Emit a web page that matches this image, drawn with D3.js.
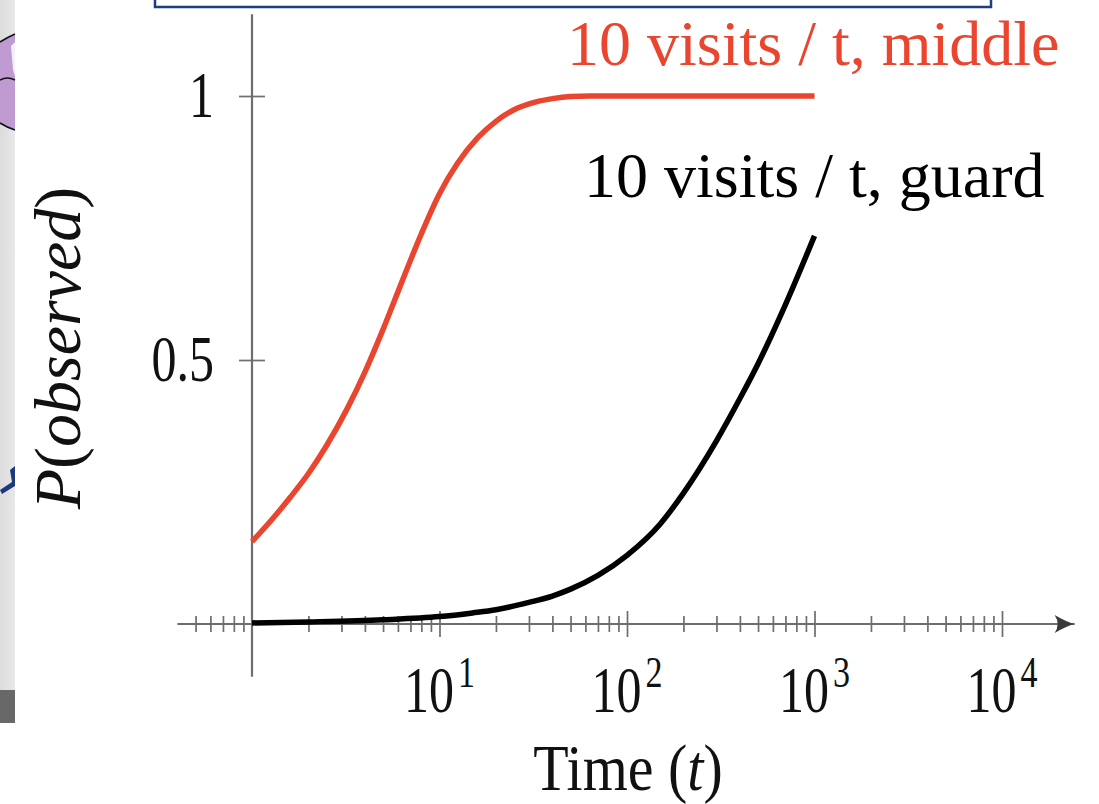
<!DOCTYPE html>
<html>
<head>
<meta charset="utf-8">
<script src="https://cdn.jsdelivr.net/npm/d3@7"></script>
<style>
  html, body { margin: 0; padding: 0; background: #fff; }
  svg { display: block; }
  .serif { font-family: 'Liberation Serif', 'Times New Roman', serif; }
</style>
</head>
<body>
<svg id="chart" width="1099" height="804"></svg>
<script>
'use strict';

// ---------------------------------------------------------
// DATA
// ---------------------------------------------------------

// red curve: 10 visits / t, middle  -> [time, P]
const middleSeries = [
  [1, 0.156], [1.25, 0.194], [1.6, 0.24], [2, 0.285], [2.5, 0.338], [3.2, 0.406],
  [4, 0.477], [5, 0.558], [6.3, 0.648], [8, 0.739], [10, 0.815], [12.5, 0.873],
  [16, 0.921], [20, 0.952], [25, 0.974], [32, 0.988], [40, 0.995], [50, 0.999],
  [63, 1], [100, 1], [1000, 1]
];

// black curve: 10 visits / t, guard
const guardSeries = [
  [1, 0.002], [2, 0.004], [5, 0.008], [10, 0.014], [15, 0.021], [20, 0.027],
  [30, 0.041], [40, 0.053], [50, 0.066], [70, 0.092], [100, 0.13], [150, 0.189],
  [200, 0.248], [300, 0.347], [400, 0.427], [500, 0.493], [700, 0.605], [1000, 0.735]
];

const seriesLabels = ['10 visits / t, middle', '10 visits / t, guard'];

const xMajorTicks = [10, 100, 1000, 10000];
const xMajorExponents = ['1', '2', '3', '4'];
const xMinorTicks = [
  0.5, 0.6, 0.7, 0.8, 0.9,
  2, 3, 4, 5, 6, 7, 8, 9,
  20, 30, 40, 50, 60, 70, 80, 90,
  200, 300, 400, 500, 600, 700, 800, 900,
  2000, 3000, 4000, 5000, 6000, 7000, 8000, 9000
];
const yTicks = [0.5, 1];
const yTickLabels = ['0.5', '1'];

const xAxisExtent = [0.4, 25000];
const yAxisExtent = [-0.1, 1.155];

// ---------------------------------------------------------
// SCALES
// ---------------------------------------------------------

const svg = d3.select('#chart');

const x = d3.scaleLog().domain([1, 10000]).range([252, 1002]);
const y = d3.scaleLinear().domain([0, 1]).range([624, 96]);

const axisColor = '#6e6e6e';

// ---------------------------------------------------------
// SLIDE LEFTOVERS (cropped neighbours of the figure)
// ---------------------------------------------------------

const defs = svg.append('defs');
const grad = defs.append('linearGradient').attr('id', 'panel-grad').attr('x1', 0).attr('x2', 1);
grad.append('stop').attr('offset', 0).attr('stop-color', '#dcdcdc');
grad.append('stop').attr('offset', 1).attr('stop-color', '#e8e8e8');

const deco = svg.append('g');
deco.append('rect').attr('x', 0).attr('y', 0).attr('width', 15).attr('height', 723).attr('fill', 'url(#panel-grad)');
deco.append('rect').attr('x', 0).attr('y', 690).attr('width', 15).attr('height', 33).attr('fill', '#686868');
deco.append('path').attr('d', 'M0,42 Q8,37 15,34 L15,130 Q8,128 0,123 Z').attr('fill', '#bf9bd1');
deco.append('path').attr('d', 'M0,42 Q8,37 15,34').attr('fill', 'none').attr('stroke', '#111').attr('stroke-width', 1.5);
deco.append('path').attr('d', 'M0,80 Q7,76 15,80').attr('fill', 'none').attr('stroke', '#111').attr('stroke-width', 1.5);
deco.append('path').attr('d', 'M0,123 Q8,128 15,130').attr('fill', 'none').attr('stroke', '#111').attr('stroke-width', 1.5);
deco.append('path').attr('d', 'M11,46 L15,42 L15,76 L13,70 Z').attr('fill', '#f4eef8');
deco.append('path').attr('d', 'M0,490 L12,482 L10,470 L15,466 L15,486 L2,494 Z').attr('fill', '#1b3b7c');

// blue box at the top edge
svg.append('rect')
  .attr('x', 155).attr('y', -6).attr('width', 836).attr('height', 13)
  .attr('fill', '#fff').attr('stroke', '#1e3e7d').attr('stroke-width', 2.5);

// ---------------------------------------------------------
// AXES
// ---------------------------------------------------------

defs.append('marker')
  .attr('id', 'arrow').attr('viewBox', '-22 -10 24 20')
  .attr('refX', 0).attr('refY', 0)
  .attr('markerWidth', 24).attr('markerHeight', 20)
  .attr('markerUnits', 'userSpaceOnUse').attr('orient', 'auto')
  .append('path')
  .attr('d', 'M-20,-9 Q-8,-2 0,0 Q-8,2 -20,9 Q-14,0 -20,-9 Z')
  .attr('fill', '#3a3a3a');

const axes = svg.append('g').attr('class', 'axes');

// x axis line with arrow
axes.append('line')
  .attr('x1', x(xAxisExtent[0])).attr('x2', x(xAxisExtent[1]) - 2)
  .attr('y1', y(0)).attr('y2', y(0))
  .attr('stroke', axisColor).attr('stroke-width', 2.2)
  .attr('marker-end', 'url(#arrow)');

// y axis line
axes.append('line')
  .attr('x1', x(1)).attr('x2', x(1))
  .attr('y1', y(yAxisExtent[1])).attr('y2', y(yAxisExtent[0]))
  .attr('stroke', axisColor).attr('stroke-width', 2.2);

function crossTicks(axisA, axisB, tr) {
  [axisA, axisB].forEach(ax => {
    const g = axes.append('g').attr('transform', tr).call(ax);
    g.select('.domain').remove();
    g.selectAll('.tick line').attr('stroke', axisColor).attr('stroke-width', 1.7);
    g.selectAll('.tick text').remove();
  });
}

crossTicks(
  d3.axisBottom(x).tickValues(xMinorTicks).tickSize(8).tickFormat(''),
  d3.axisTop(x).tickValues(xMinorTicks).tickSize(8).tickFormat(''),
  `translate(0, ${ y(0) })`
);
crossTicks(
  d3.axisBottom(x).tickValues(xMajorTicks).tickSize(13).tickFormat(''),
  d3.axisTop(x).tickValues(xMajorTicks).tickSize(13).tickFormat(''),
  `translate(0, ${ y(0) })`
);
crossTicks(
  d3.axisLeft(y).tickValues(yTicks).tickSize(13).tickFormat(''),
  d3.axisRight(y).tickValues(yTicks).tickSize(13).tickFormat(''),
  `translate(${ x(1) }, 0)`
);

// x tick labels: 10^k
const xLabels = axes.append('g').attr('class', 'serif').attr('fill', '#111');
xMajorTicks.forEach((t, i) => {
  const txt = xLabels.append('text')
    .attr('transform', `translate(${ x(t) }, ${ y(0) + 88 }) scale(1, 1.3)`)
    .attr('text-anchor', 'middle')
    .style('font-size', '50px');
  txt.append('tspan').text('10');
  txt.append('tspan').attr('dx', 4).attr('dy', -19).style('font-size', '34px').text(xMajorExponents[i]);
});

// y tick labels
const yLabels = axes.append('g').attr('class', 'serif').attr('fill', '#111');
yTicks.forEach((v, i) => {
  yLabels.append('text')
    .attr('transform', `translate(${ x(1) - 38 }, ${ y(v) + 21 }) scale(1, 1.3)`)
    .attr('text-anchor', 'end')
    .style('font-size', '50px')
    .text(yTickLabels[i]);
});

// axis titles
const xTitle = svg.append('text').attr('class', 'serif')
  .attr('transform', `translate(628, 790) scale(1, 1.12)`)
  .attr('text-anchor', 'middle').attr('fill', '#111')
  .style('font-size', '58px');
xTitle.append('tspan').text('Time (');
xTitle.append('tspan').style('font-style', 'italic').text('t');
xTitle.append('tspan').text(')');

const yTitle = svg.append('text').attr('class', 'serif')
  .attr('transform', 'translate(80, 348) rotate(-90)')
  .attr('text-anchor', 'middle').attr('fill', '#111')
  .style('font-size', '66px');
yTitle.append('tspan').style('font-style', 'italic').text('P');
yTitle.append('tspan').text('(');
yTitle.append('tspan').style('font-style', 'italic').text('observed');
yTitle.append('tspan').text(')');

// ---------------------------------------------------------
// LINES
// ---------------------------------------------------------

const line = d3.line().curve(d3.curveMonotoneX).x(d => x(d[0])).y(d => y(d[1]));

svg.append('path').datum(guardSeries)
  .attr('d', line).attr('fill', 'none')
  .attr('stroke', '#000').attr('stroke-width', 5.5);

svg.append('path').datum(middleSeries)
  .attr('d', line).attr('fill', 'none')
  .attr('stroke', '#e9452f').attr('stroke-width', 5.5);

// ---------------------------------------------------------
// CURVE LABELS
// ---------------------------------------------------------

svg.append('text').attr('class', 'serif')
  .attr('x', 567).attr('y', 65)
  .attr('fill', '#e9452f').style('font-size', '64px')
  .text(seriesLabels[0]);

svg.append('text').attr('class', 'serif')
  .attr('x', 584).attr('y', 197)
  .attr('fill', '#000').style('font-size', '64px')
  .text(seriesLabels[1]);
</script>
</body>
</html>
